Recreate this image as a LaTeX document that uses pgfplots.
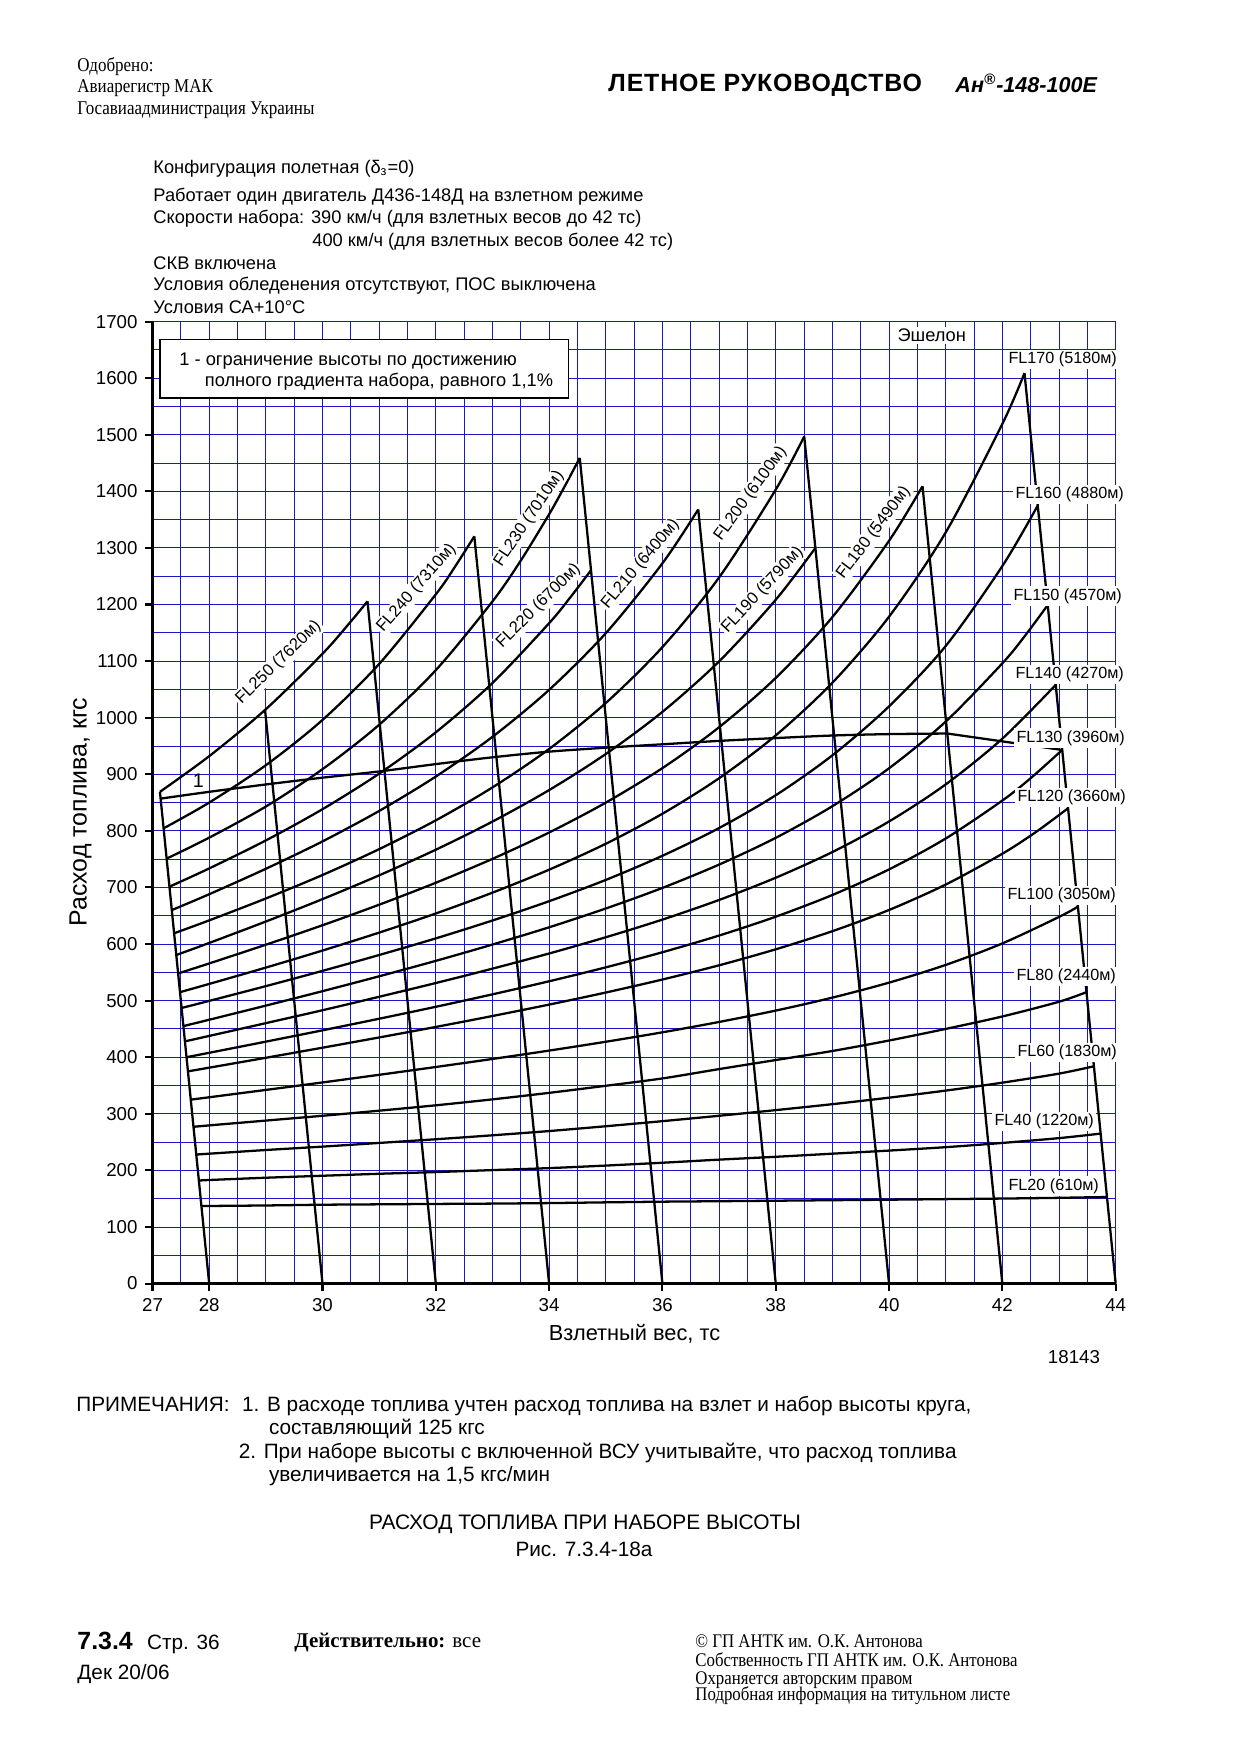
\documentclass[border=0pt]{standalone}
\usepackage{fontspec}
\setmainfont{Liberation Sans}
\newfontfamily\serif{Liberation Serif}
\newfontfamily\serifn[FakeStretch=0.87]{Liberation Serif}
\usepackage{pgfplots}
\pgfplotsset{compat=1.18}
\definecolor{gridblue}{RGB}{25,25,200}
\newcommand\ft[1]{\fontsize{#1}{#1}\selectfont}
\pgfplotsset{crv/.style={black, line width=1.1pt, smooth, tension=0.5, no marks},
             lin/.style={black, line width=1.1pt, no marks}}
\begin{document}
\begin{tikzpicture}
\path[use as bounding box] (0,0) rectangle (210mm,-297.2mm);
\begin{axis}[
  at={(25.83mm,-217.36mm)}, anchor=south west,
  scale only axis, width=163.1mm, height=162.9mm,
  xmin=27, xmax=44, ymin=0, ymax=1700,
  axis x line=bottom, axis y line=left,
  axis line style={-, line width=1.4pt},
  xtick={27,28,30,32,34,36,38,40,42,44},
  ytick={0,100,...,1700},
  minor xtick={27,27.5,...,44},
  minor ytick={50,150,...,1650},
  grid=both,
  major grid style={gridblue, line width=0.45pt},
  minor grid style={gridblue, line width=0.45pt},
  tick align=outside,
  major tick length=1.3mm, minor tick length=0pt,
  tick style={black, line width=1pt},
  tick label style={font=\ft{9}},
  /pgf/number format/assume math mode=true,
  /pgf/number format/1000 sep={},
  scaled y ticks=false,
  clip=false,
]
% FL curves
\addplot[crv] coordinates {(27.131,869) (28,932) (29,1015) (30,1113) (30.5,1170) (30.794,1205.7)};
\addplot[crv] coordinates {(27.196,804.5) (28,850) (29,916) (30,996) (31,1095) (32,1218) (32.35,1268.6) (32.68,1320.5)};
\addplot[crv] coordinates {(27.249,751) (28,788) (29,843) (30,909) (31,987.5) (32,1084) (33,1205.5) (33.5,1277.7) (34,1359.5) (34.27,1408) (34.541,1459)};
\addplot[crv] coordinates {(27.299,701.4) (28,733.6) (29,783.1) (30,838.3) (31,901.1) (32,974.2) (33,1061.3) (34,1167) (34.4,1216) (34.739,1260.5)};
\addplot[crv] coordinates {(27.34,660) (28,688) (29,733) (30,781.4) (31,835.2) (32,896) (33,966.2) (34,1049.2) (35,1149.3) (36,1272.8) (36.632,1368)};
\addplot[crv] coordinates {(27.381,619) (28,641.8) (29,680.5) (30,722) (31,767.7) (32,818.6) (33,876.8) (34,944.7) (35,1025.9) (36,1124.8) (37,1247.8) (38,1403.1) (38.503,1497)};
\addplot[crv] coordinates {(27.419,580.6) (28,601.9) (29,639.8) (30,679.4) (31,721.4) (32,766.7) (33,816.4) (34,872.1) (35,935.8) (36,1010.3) (37,1099.5) (38,1208.4) (38.70,1300)};
\addplot[crv] coordinates {(27.452,548) (28,565.7) (29,598.8) (30,633.2) (31,669.5) (32,708.3) (33,750.5) (34,797.1) (35,849.9) (36,910.9) (37,983.1) (38,1070.3) (39,1177.8) (40,1312.6) (40.591,1409)};
\addplot[crv] coordinates {(27.485,515) (28,529.5) (29,558.4) (30,588.5) (31,620.2) (32,654) (33,690.8) (34,731.4) (35,777.2) (36,830.3) (37,893) (38,968.7) (39,1061.8) (40,1178.5) (41,1327.4) (42,1519.2) (42.391,1609)};
\addplot[crv] coordinates {(27.513,487) (28,499.5) (29,525.6) (30,552.6) (31,580.6) (32,610) (33,641.6) (34,675.7) (35,713.3) (36,756) (37,805) (38,863) (39,933.5) (40,1020) (41,1126.7) (42,1268) (42.625,1375)};
\addplot[crv] coordinates {(27.545,455) (28,466.2) (29,491.2) (30,516.7) (31,543) (32,570.3) (33,599.1) (34,629.6) (35,662.8) (36,699.2) (37,740.4) (38,787.7) (39,843.6) (40,910.6) (41,993.1) (42,1096.1) (42.4,1144.8) (42.801,1199)};
\addplot[crv] coordinates {(27.572,428) (28,437.6) (29,460.2) (30,483) (31,506.8) (32,531.1) (33,556.5) (34,583.3) (35,612) (36,643.2) (37,677.9) (38,717.2) (39,762.6) (40,816.6) (41,882.1) (42,963) (42.942,1058)};
\addplot[crv] coordinates {(27.6,400) (28,407.8) (29,427.5) (30,447.5) (31,468) (32,489.1) (33,511.1) (34,534.2) (35,558.8) (36,585.5) (37,615) (38,648.3) (39,686.7) (40,731.9) (41,786.5) (42,853.6) (42.5,893.1) (43.057,943)};
\addplot[crv] coordinates {(27.625,375) (28,381.5) (29,399) (30,416.8) (31,434.9) (32,453.5) (33,472.8) (34,493) (35,514.3) (36,537.3) (37,562.4) (38,590.7) (39,622.7) (40,660.2) (41,705.1) (42,759.6) (42.6,798.5) (43.16,840)};
\addplot[crv] coordinates {(27.675,325) (28,329.2) (29,342.2) (30,355.4) (31,368.9) (32,382.7) (33,396.9) (34,411.7) (35,427.3) (36,444) (37,462.3) (38,482.4) (39,505.3) (40,531.8) (41,563.1) (42,601.1) (43,647.9) (43.334,666)};
\addplot[crv] coordinates {(27.723,277) (28,279.5) (29,288) (30,296.5) (31,305.5) (32,315) (33,325.5) (34,337) (35,349.5) (36,362.5) (37,379) (38,395) (39,411) (40,429.5) (41,450) (42,472) (43,498) (43.485,515)};
\addplot[crv] coordinates {(27.772,228) (28,229.5) (29,236) (30,242) (31,248.5) (32,255) (33,262) (34,269.5) (35,278) (36,287) (37,296.5) (38,306.5) (39,317) (40,328.5) (41,341) (42,355) (43,371) (43.616,384)};
\addplot[crv] coordinates {(27.818,182) (28,183) (29,187) (30,190.5) (31,194) (32,197) (33,200.5) (34,204) (35,208.5) (36,213.5) (37,219) (38,224) (39,229.5) (40,235) (41,241) (42,248.5) (43,257) (43.735,265)};
\addplot[crv] coordinates {(27.863,137) (28,137.1) (29,138) (30,139.3) (31,140) (32,140.7) (33,141.3) (34,142.2) (35,143.5) (36,144.7) (37,145.5) (38,146.4) (39,147.3) (40,148.2) (41,149.2) (42,150.2) (43,151.5) (43.847,153)};
% limit line 1
\addplot[crv] coordinates {(27.143,857) (28,869) (29,882) (30,894) (31,905) (32,918) (33,930) (34,940) (35,947) (36,953) (37,959) (38,964) (39,968.5) (40,971) (41.03,972)};
\addplot[lin] coordinates {(41.03,972) (43.057,943)};
% weight lines
\addplot[lin] coordinates {(27.131,869) (28,0)};
\addplot[lin] coordinates {(28.985,1015) (30,0)};
\addplot[lin] coordinates {(30.794,1205.7) (32,0)};
\addplot[lin] coordinates {(32.68,1320.5) (34,0)};
\addplot[lin] coordinates {(34.541,1459) (36,0)};
\addplot[lin] coordinates {(36.632,1368) (38,0)};
\addplot[lin] coordinates {(38.503,1497) (40,0)};
\addplot[lin] coordinates {(40.591,1409) (42,0)};
\addplot[lin] coordinates {(42.391,1609) (44,0)};
\node[font=\ft{9.5}] at (axis cs:27.81,889) {1};
\end{axis}
\begin{scope}[x=0.16935mm,y=-0.16935mm, txt/.style={inner sep=0pt, anchor=mid west}]
% header
\node[txt, font=\serifn\ft{9.4}] at (77,66) {Одобрено:};
\node[txt, font=\serifn\ft{9.4}] at (77,87.5) {Авиарегистр МАК};
\node[txt, font=\serifn\ft{9.4}] at (77,109.5) {Госавиаадминистрация Украины};
\node[txt, font=\bfseries\ft{12}\addfontfeatures{LetterSpace=3.4}] at (608,86.5) {ЛЕТНОЕ РУКОВОДСТВО};
\node[txt, font=\bfseries\itshape\ft{10.4}] at (955,87) {Ан\textsuperscript{®}-148-100E};
% conditions
\node[txt, font=\ft{8.8}] at (153,167.8) {Конфигурация полетная (δ\textsubscript{з}=0)};
\node[txt, font=\ft{8.8}] at (153,195.8) {Работает один двигатель Д436-148Д на взлетном режиме};
\node[txt, font=\ft{8.8}] at (153,218.2) {Скорости набора: 390 км/ч (для взлетных весов до 42 тс)};
\node[txt, font=\ft{8.8}] at (312,240.6) {400 км/ч (для взлетных весов более 42 тс)};
\node[txt, font=\ft{8.8}] at (153,264.1) {СКВ включена};
\node[txt, font=\ft{8.8}] at (153,285.3) {Условия обледенения отсутствуют, ПОС выключена};
\node[txt, font=\ft{8.8}] at (153,307.7) {Условия СА+10°С};
% legend box
\draw[line width=0.9pt, fill=white] (160,339.5) rectangle (568.5,398);
\node[txt, font=\ft{8.8}] at (179,359.5) {1 - ограничение высоты по достижению};
\node[txt, font=\ft{8.8}] at (204.5,380.5) {полного градиента набора, равного 1,1\%};
\node[anchor=mid west, inner sep=1pt, fill=white, font=\ft{8.8}] at (895,336) {Эшелон};
% right labels
\begin{scope}[every node/.style={anchor=mid west, inner sep=1pt, fill=white, font=\ft{7.8}}]
\node at (1006,358) {FL170 (5180м)};
\node at (1013,493) {FL160 (4880м)};
\node at (1011,594.7) {FL150 (4570м)};
\node at (1013,673.3) {FL140 (4270м)};
\node at (1014,736.7) {FL130 (3960м)};
\node at (1015,796) {FL120 (3660м)};
\node at (1005,894.3) {FL100 (3050м)};
\node at (1014,975.3) {FL80 (2440м)};
\node at (1015,1051.3) {FL60 (1830м)};
\node at (992,1120.3) {FL40 (1220м)};
\node at (1006,1184.7) {FL20 (610м)};
\end{scope}
% rotated labels
\begin{scope}[every node/.style={inner sep=0.8pt, fill=white, font=\ft{8}}]
\node[rotate=44] at (278.5,662.5) {FL250 (7620м)};
\node[rotate=49] at (416.5,588) {FL240 (7310м)};
\node[rotate=56] at (529,518.8) {FL230 (7010м)};
\node[rotate=45] at (538.5,606) {FL220 (6700м)};
\node[rotate=50] at (640.5,564.2) {FL210 (6400м)};
\node[rotate=54] at (750.5,493.8) {FL200 (6100м)};
\node[rotate=47] at (762.5,590) {FL190 (5790м)};
\node[rotate=53] at (873.5,533) {FL180 (5490м)};
\end{scope}
% axis labels
\node[font=\ft{10.5}] at (634.5,1334) {Взлетный вес, тс};
\node[rotate=90, font=\ft{12}] at (80.6,812) {Расход топлива, кгс};
\node[txt, font=\ft{9}] at (1047.5,1357.5) {18143};
% notes
\node[txt, font=\ft{10}] at (76,1405.5) {ПРИМЕЧАНИЯ:};
\node[txt, font=\ft{10}] at (241.7,1405.5) {1. В расходе топлива учтен расход топлива на взлет и набор высоты круга,};
\node[txt, font=\ft{10}] at (268.6,1429) {составляющий 125 кгс};
\node[txt, font=\ft{10}] at (238.4,1452.6) {2. При наборе высоты с включенной ВСУ учитывайте, что расход топлива};
\node[txt, font=\ft{10}] at (268.6,1476) {увеличивается на 1,5 кгс/мин};
\node[inner sep=0pt, font=\ft{10.1}] at (585,1524) {РАСХОД ТОПЛИВА ПРИ НАБОРЕ ВЫСОТЫ};
\node[inner sep=0pt, font=\ft{10}] at (584,1549) {Рис. 7.3.4-18а};
% footer
\node[txt, font=\bfseries\ft{12}] at (77,1644) {7.3.4};
\node[txt, font=\ft{10}] at (146.6,1644) {Стр. 36};
\node[txt, font=\ft{10}] at (77,1674) {Дек 20/06};
\node[txt, font=\serif\ft{10.1}] at (294,1641.7) {\textbf{Действительно:} все};
\node[txt, font=\serifn\ft{9.3}] at (695,1641.7) {© ГП АНТК им. О.К. Антонова};
\node[txt, font=\serifn\ft{9.3}] at (695,1660.7) {Собственность ГП АНТК им. О.К. Антонова};
\node[txt, font=\serifn\ft{9.3}] at (695,1678.6) {Охраняется авторским правом};
\node[txt, font=\serifn\ft{9.3}] at (695,1695.4) {Подробная информация на титульном листе};
\end{scope}
\end{tikzpicture}
\end{document}
